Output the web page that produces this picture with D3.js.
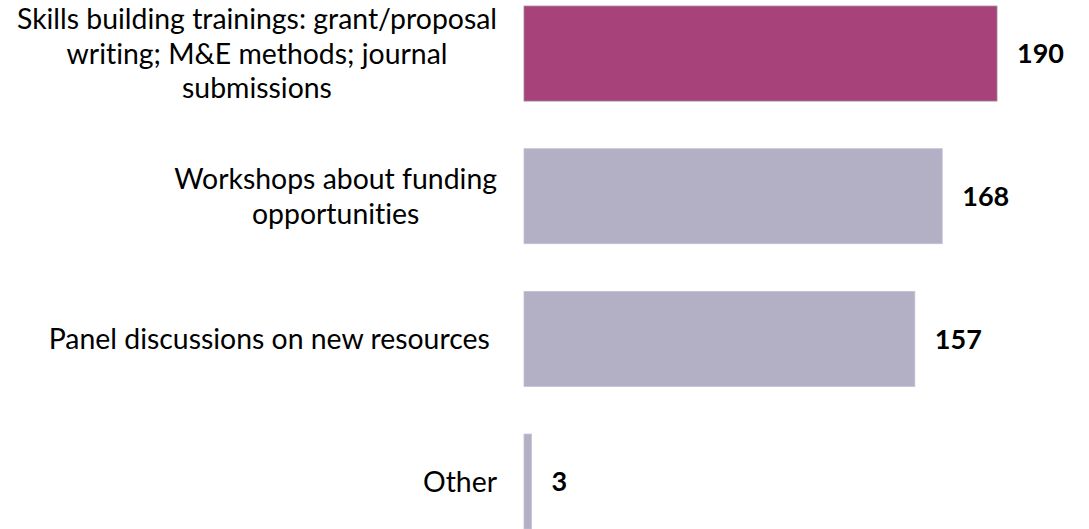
<!DOCTYPE html>
<html>
<head>
<meta charset="utf-8">
<script src="https://cdn.jsdelivr.net/npm/d3@7"></script>
<style>
  body { margin: 0; padding: 0; background: #fff; }
  svg { display: block; }
  text { font-family: Lato, "Open Sans", sans-serif; fill: #000; font-variant-ligatures: none; font-feature-settings: "liga" 0, "clig" 0; }
</style>
</head>
<body>
<script>
const categories = [
  ["Skills building trainings: grant/proposal", "writing; M&E methods; journal", "submissions"],
  ["Workshops about funding", "opportunities"],
  ["Panel discussions on new resources\u00a0"],
  ["Other"]
]
const values = [190, 168, 157, 3]
const highlight = [true, false, false, false]

const width = 1089
const height = 529
const x0 = 524
const labelRight = 497
const labelSize = 28.4
const valueSize = 27
const lineH = 34.5

const svg = d3.select("body").append("svg")
  .attr("width", width)
  .attr("height", height)

const x = d3.scaleLinear()
  .domain([0, 190])
  .range([x0, 997])

const y = d3.scaleBand()
  .domain(d3.range(values.length))
  .range([-17.8, 552.9])
  .paddingInner(0.334)
  .paddingOuter(0.167)

// bars
svg.append("g")
  .selectAll("rect")
  .data(values)
  .join("rect")
  .attr("x", x(0))
  .attr("y", (d, i) => y(i))
  .attr("width", d => x(d) - x(0))
  .attr("height", y.bandwidth())
  .attr("fill", (d, i) => highlight[i] ? "#a8427a" : "#b3b0c5")
  .attr("stroke", (d, i) => highlight[i] ? "#9a8a96" : "#c4c1d2")
  .attr("stroke-width", 0.8)

// value labels
svg.append("g")
  .selectAll("text")
  .data(values)
  .join("text")
  .attr("x", d => x(d) + 20)
  .attr("y", (d, i) => y(i) + y.bandwidth() / 2)
  .attr("dy", "0.36em")
  .attr("font-size", valueSize)
  .attr("font-weight", "bold")
  .text(d => d)

// category labels: lines centred within a block that is right-aligned
const lab = svg.append("g")
  .selectAll("text")
  .data(categories)
  .join("text")
  .attr("font-size", labelSize)
  .attr("text-anchor", "middle")
  .style("white-space", "pre")

lab.each(function(lines, i) {
  const t = d3.select(this)
  const cy = y(i) + y.bandwidth() / 2
  lines.forEach((s, j) => {
    t.append("tspan")
      .attr("y", cy + (j - (lines.length - 1) / 2) * lineH)
      .attr("dy", "0.36em")
      .text(s)
  })
  let w = 0
  t.selectAll("tspan").each(function() { w = Math.max(w, this.getComputedTextLength()) })
  t.selectAll("tspan").attr("x", labelRight - w / 2)
})
</script>
</body>
</html>
